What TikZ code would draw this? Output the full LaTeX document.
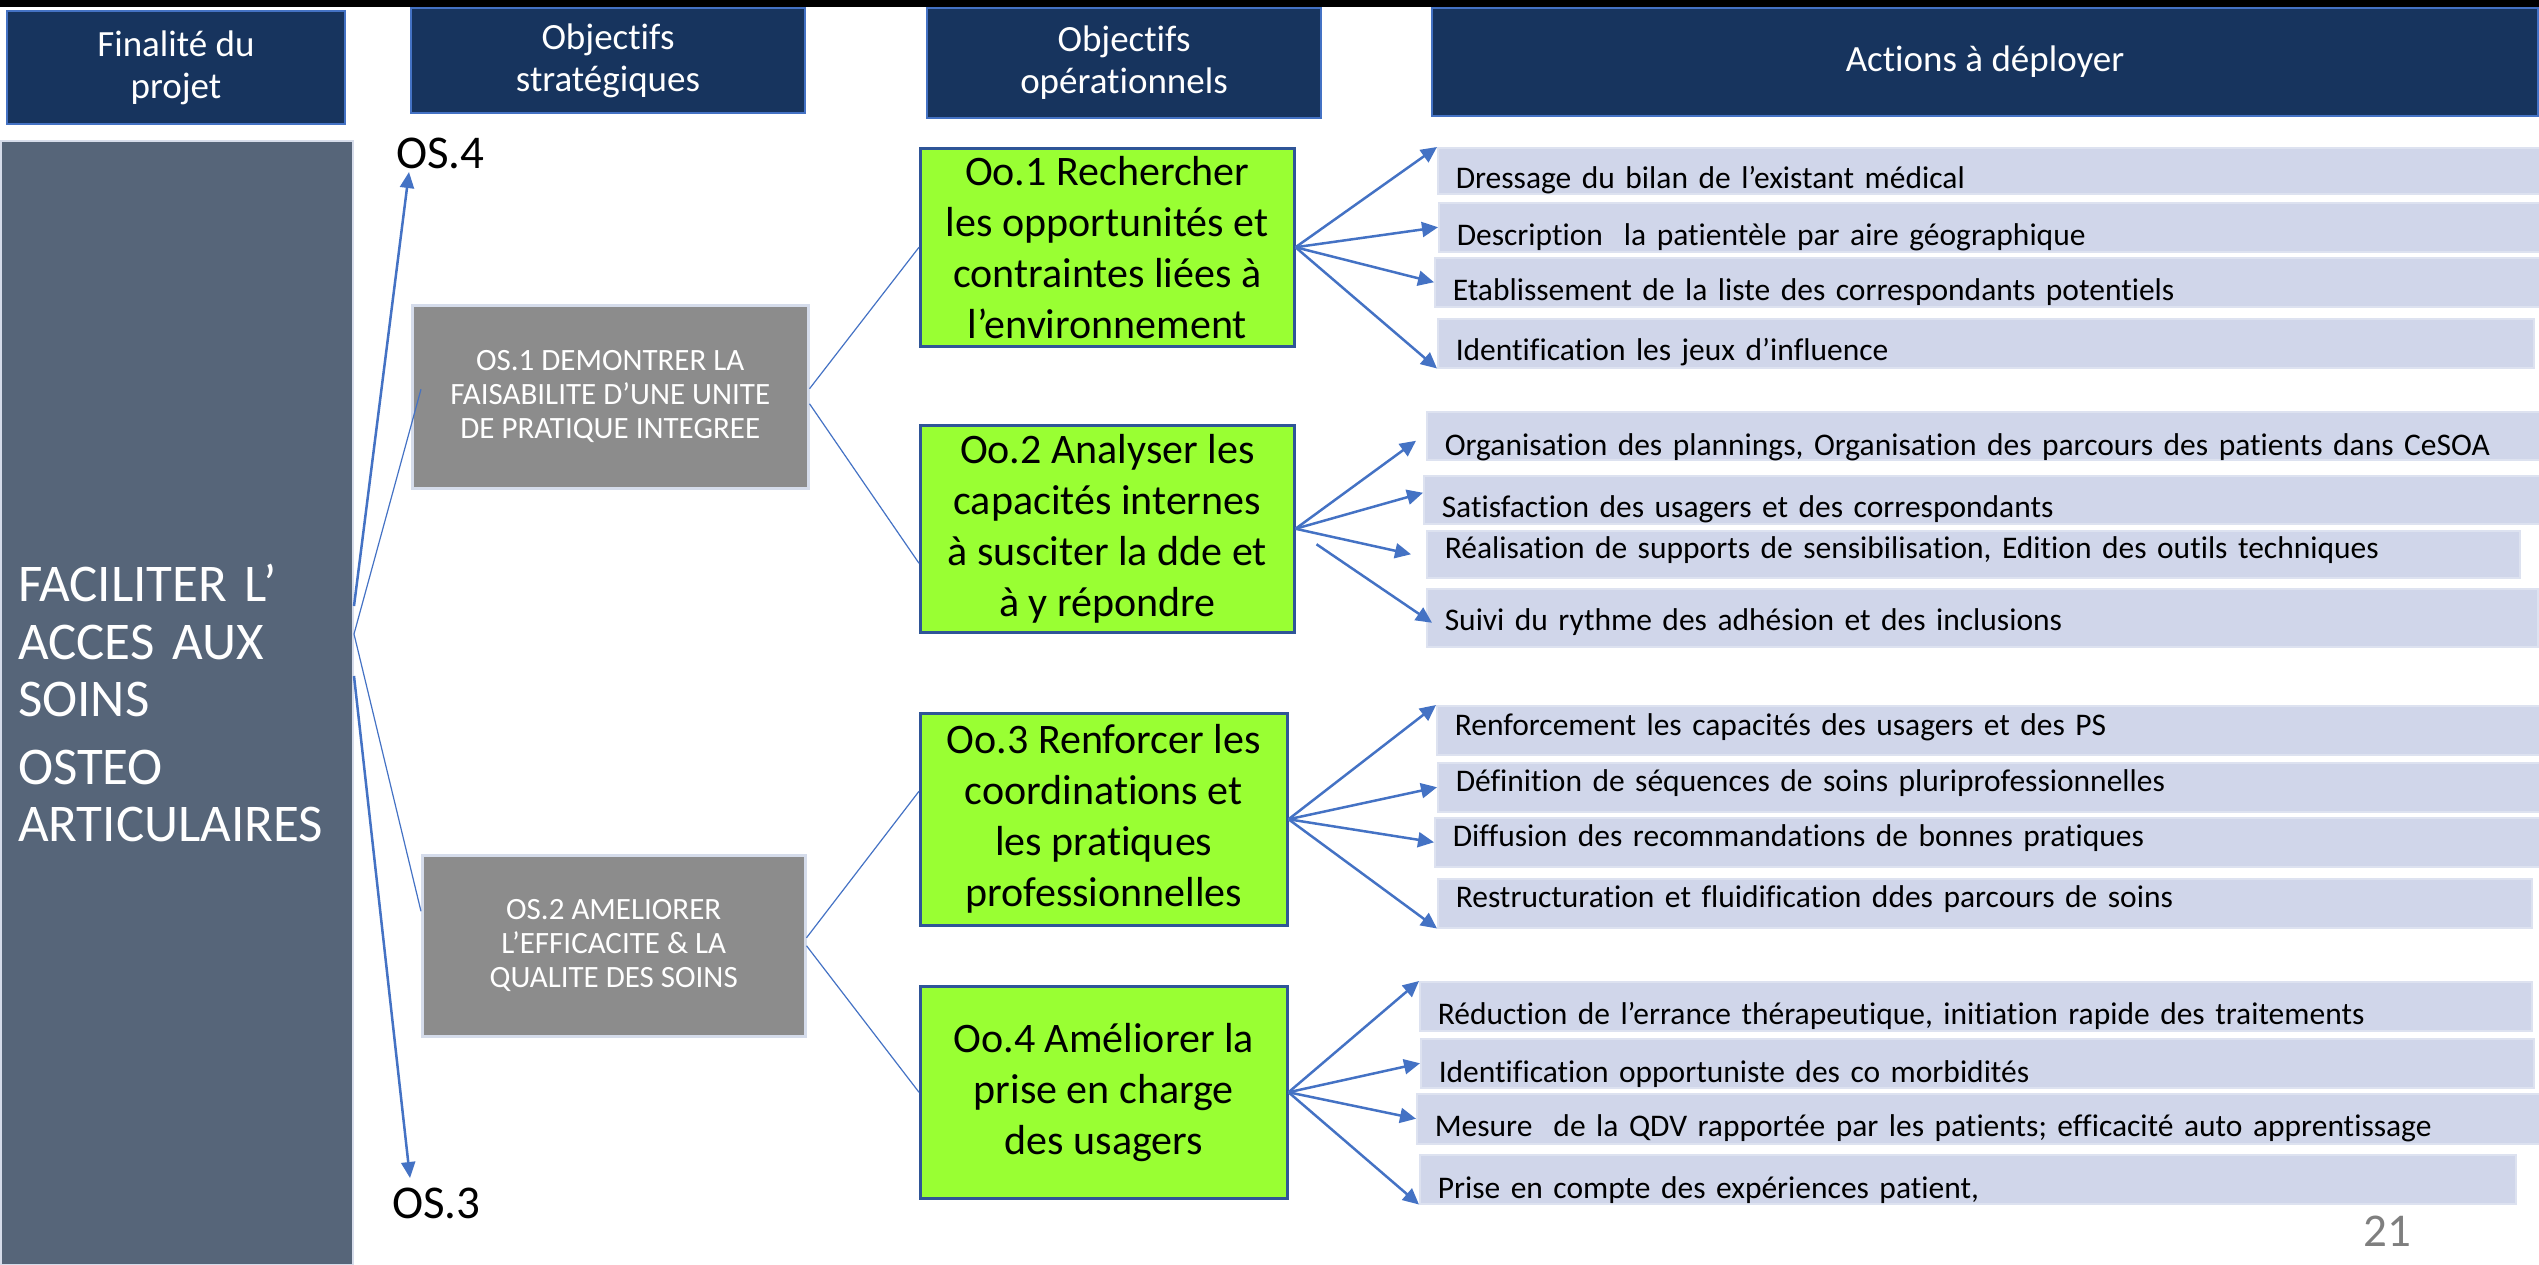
\documentclass[tikz,border=0pt]{standalone}
\usepackage{fontspec}
\setmainfont{Carlito}[Ligatures=NoCommon]
\usetikzlibrary{arrows.meta}

\definecolor{headfill}{HTML}{17345E}
\definecolor{headline}{HTML}{4472C4}
\definecolor{finfill}{HTML}{566579}
\definecolor{finline}{HTML}{D6DCEA}
\definecolor{osfill}{HTML}{8C8C8C}
\definecolor{osline}{HTML}{D5DCEB}
\definecolor{oofill}{HTML}{99FF33}
\definecolor{ooline}{HTML}{2F5597}
\definecolor{actfill}{HTML}{D0D6EA}
\definecolor{actline}{HTML}{DDE2F0}
\definecolor{arrowblue}{HTML}{4472C4}
\definecolor{pagegray}{HTML}{7F7F7F}

\begin{document}
\begin{tikzpicture}[x=1pt, y=-1pt,
    headbox/.style={anchor=north west, fill=headfill, draw=headline, line width=2pt,
        text=white, align=center, inner sep=0pt, font=\fontsize{37}{42}\selectfont},
    finbox/.style={anchor=north west, fill=finfill, draw=finline, line width=2pt,
        text=white, align=left, inner xsep=17pt, inner ysep=0pt, font=\fontsize{53}{57.5}\selectfont},
    osbox/.style={anchor=north west, fill=osfill, draw=osline, line width=2.5pt,
        text=white, align=center, inner sep=0pt, font=\fontsize{31}{34}\selectfont},
    oobox/.style={anchor=north west, fill=oofill, draw=ooline, line width=2.5pt,
        align=center, inner sep=0pt, font=\fontsize{42}{51}\selectfont},
    actbox/.style={anchor=north west, fill=actfill, draw=actline, line width=1.5pt,
        align=left, inner xsep=18pt, inner ysep=0pt, font=\fontsize{31.5}{34}\selectfont},
    oslabel/.style={anchor=base west, inner sep=0pt, font=\fontsize{47}{50}\selectfont},
    link/.style={draw=arrowblue, line width=1.2pt},
    osarrow/.style={draw=arrowblue, line width=2.5pt, -{Triangle[length=16pt,width=14pt]}},
    actarrow/.style={draw=arrowblue, line width=2.5pt, -{Triangle[length=16pt,width=15pt]}}]

    \useasboundingbox (0,0) rectangle (2539,1264);

    % Slide frame
    \fill[black] (0,0) rectangle (2539,7);
    \fill[black] (0,140) rectangle (3,1264);

    % Column headers
    \node[headbox, minimum width=338pt, minimum height=113pt] (hfin) at (6,10) {Finalité du\\projet};
    \node[headbox, minimum width=394pt, minimum height=105pt] (hos) at (410,7) {Objectifs\\stratégiques};
    \node[headbox, minimum width=394pt, minimum height=110pt] (hoo) at (926,7) {Objectifs\\opérationnels};
    \node[headbox, minimum width=1106pt, minimum height=108pt] (hact) at (1431,7) {Actions à déployer};

    % Finalite
    \node[finbox, text width=318pt, minimum height=1124pt] (fin) at (0,140)
        {FACILITER L’\\ACCES AUX\\SOINS\\[10pt]OSTEO\\ARTICULAIRES};

    % Strategic objectives
    \node[oslabel] (os4) at (396,168) {OS.4};
    \node[oslabel] (os3) at (392,1218) {OS.3};
    \node[osbox, minimum width=396pt, minimum height=183pt] (os1) at (411,304)
        {OS.1 DEMONTRER LA\\FAISABILITE D’UNE UNITE\\DE PRATIQUE INTEGREE};
    \node[osbox, minimum width=383pt, minimum height=181pt] (os2) at (421,854)
        {OS.2 AMELIORER\\L’EFFICACITE \& LA\\QUALITE DES SOINS};

    % Operational objectives
    \node[oobox, minimum width=374pt, minimum height=198pt] (oo1) at (919,147)
        {Oo.1 Rechercher\\les opportunités et\\contraintes liées à\\l’environnement};
    \node[oobox, minimum width=374pt, minimum height=207pt] (oo2) at (919,424)
        {Oo.2 Analyser les\\capacités internes\\à susciter la dde et\\à y répondre};
    \node[oobox, minimum width=367pt, minimum height=212pt] (oo3) at (919,712)
        {Oo.3 Renforcer les\\coordinations et\\les pratiques\\professionnelles};
    \node[oobox, minimum width=367pt, minimum height=212pt] (oo4) at (919,985)
        {Oo.4 Améliorer la\\prise en charge\\des usagers};

    % Actions of Oo.1
    \node[actbox, text width=1066pt, text height=41pt, text depth=5pt] (a11) at (1437,147)
        {Dressage du bilan de l’existant médical};
    \node[actbox, text width=1065pt, text height=43pt, text depth=6pt] (a12) at (1438,202)
        {Description\ \ la patientèle par aire géographique};
    \node[actbox, text width=1069pt, text height=43pt, text depth=6pt] (a13) at (1434,257)
        {Etablissement de la liste des correspondants potentiels};
    \node[actbox, text width=1060pt, text height=42pt, text depth=7pt] (a14) at (1437,318)
        {Identification les jeux d’influence};

    % Actions of Oo.2
    \node[actbox, text width=1077pt, text height=44pt, text depth=4pt] (a21) at (1426,411)
        {Organisation des plannings, Organisation des parcours des patients dans CeSOA};
    \node[actbox, text width=1080pt, text height=42pt, text depth=6pt] (a22) at (1423,475)
        {Satisfaction des usagers et des correspondants};
    \node[actbox, text width=1057pt, text height=28pt, text depth=19pt] (a23) at (1426,530)
        {Réalisation de supports de sensibilisation, Edition des outils techniques};
    \node[actbox, text width=1075pt, text height=42pt, text depth=16pt] (a24) at (1426,588)
        {Suivi du rythme des adhésion et des inclusions};

    % Actions of Oo.3
    \node[actbox, text width=1067pt, text height=30pt, text depth=19pt] (a31) at (1436,705)
        {Renforcement les capacités des usagers et des PS};
    \node[actbox, text width=1066pt, text height=29pt, text depth=20pt] (a32) at (1437,762)
        {Définition de séquences de soins pluriprofessionnelles};
    \node[actbox, text width=1069pt, text height=29pt, text depth=20pt] (a33) at (1434,817)
        {Diffusion des recommandations de bonnes pratiques};
    \node[actbox, text width=1058pt, text height=29pt, text depth=20pt] (a34) at (1437,878)
        {Restructuration et fluidification ddes parcours de soins};

    % Actions of Oo.4
    \node[actbox, text width=1076pt, text height=43pt, text depth=6pt] (a41) at (1419,981)
        {Réduction de l’errance thérapeutique, initiation rapide des traitements};
    \node[actbox, text width=1077pt, text height=44pt, text depth=5pt] (a42) at (1420,1038)
        {Identification opportuniste des co morbidités};
    \node[actbox, text width=1087pt, text height=43pt, text depth=7pt] (a43) at (1416,1093)
        {Mesure\ \ de la QDV rapportée par les patients; efficacité auto apprentissage};
    \node[actbox, text width=1060pt, text height=44pt, text depth=5pt] (a44) at (1419,1154)
        {Prise en compte des expériences patient,};

    % Page number
    \node[anchor=base west, inner sep=0pt, text=pagegray, font=\fontsize{47}{50}\selectfont] (page) at (2363,1246) {21};

    % Finalite to strategic objectives
    \draw[osarrow] ([yshift=97pt]fin.east) -- ([xshift=13pt, yshift=-4pt]os4.base west);
    \draw[osarrow] ([yshift=27pt]fin.east) -- ([xshift=18pt, yshift=40pt]os3.base west);
    \draw[link] ([yshift=69pt]fin.east) -- ([xshift=10pt, yshift=7.5pt]os1.west);
    \draw[link] ([yshift=69pt]fin.east) -- ([yshift=34.5pt]os2.west);

    % Strategic to operational objectives
    \draw[link] ([yshift=8pt]os1.east) -- (oo1.west);
    \draw[link] ([yshift=-7pt]os1.east) -- ([yshift=-34.5pt]oo2.west);
    \draw[link] ([yshift=8pt]os2.east) -- ([yshift=28pt]oo3.west);
    \draw[link] (os2.east) -- (oo4.west);

    % Operational objectives to actions
    \draw[actarrow] (oo1.east) -- (a11.north west);
    \draw[actarrow] (oo1.east) -- (a12.west);
    \draw[actarrow] (oo1.east) -- (a13.west);
    \draw[actarrow] (oo1.east) -- (a14.south west);

    \coordinate (oo2b) at ([xshift=21pt, yshift=-15.5pt]oo2.east);
    \draw[actarrow] (oo2.east) -- ([xshift=-10pt, yshift=-5pt]a21.west);
    \draw[actarrow] (oo2.east) -- ([yshift=7pt]a22.west);
    \draw[actarrow] (oo2.east) -- ([xshift=-15pt]a23.west);
    \draw[actarrow] (oo2b) -- ([xshift=6pt, yshift=-5pt]a24.west);

    \draw[actarrow] (oo3.east) -- (a31.north west);
    \draw[actarrow] (oo3.east) -- (a32.west);
    \draw[actarrow] (oo3.east) -- (a33.west);
    \draw[actarrow] (oo3.east) -- (a34.south west);

    \draw[actarrow] (oo4.east) -- (a41.north west);
    \draw[actarrow] (oo4.east) -- (a42.west);
    \draw[actarrow] (oo4.east) -- (a43.west);
    \draw[actarrow] (oo4.east) -- (a44.south west);
\end{tikzpicture}
\end{document}
